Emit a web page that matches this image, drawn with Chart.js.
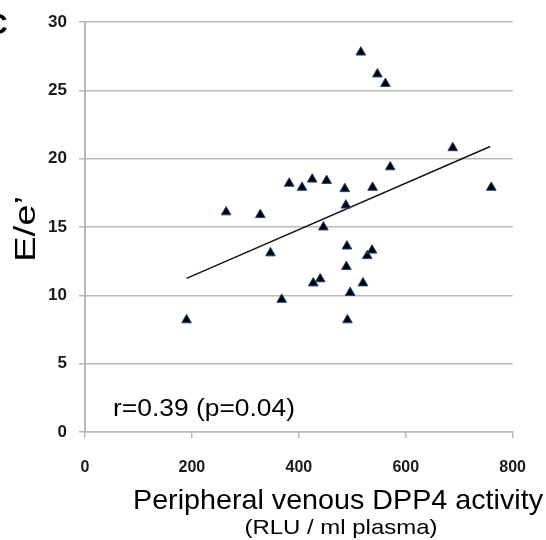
<!DOCTYPE html>
<html>
<head>
<meta charset="utf-8">
<script src="https://cdn.jsdelivr.net/npm/chart.js@4.4.1/dist/chart.umd.min.js"></script>
<style>
  html, body { margin: 0; padding: 0; background: #fff; }
  #wrap { position: relative; width: 546px; height: 540px; }
</style>
</head>
<body>
<div id="wrap"><canvas id="c" width="546" height="540"></canvas></div>
<script>
// DPP4 activity (RLU / ml plasma)
const dpp4 = [190, 264, 328, 347, 368, 382, 406, 425, 427, 440, 446, 452, 486, 488, 489, 490, 491, 496, 516, 520, 528, 537, 538, 547, 562, 571, 688, 760];
// E/e'
const eRatio = [8.2, 16.1, 15.9, 13.1, 9.7, 18.2, 17.9, 18.5, 10.9, 11.2, 15.0, 18.4, 17.8, 16.6, 12.1, 13.6, 8.2, 10.2, 27.8, 10.9, 12.9, 13.3, 17.9, 26.2, 25.5, 19.4, 20.8, 17.9];
// regression line end points
const fitX = [190, 758];
const fitY = [11.25, 20.9];
const xTicks = [0, 200, 400, 600, 800];
const yTicks = [0, 5, 10, 15, 20, 25, 30];
const xTitle = 'Peripheral venous DPP4 activity';
const xSubTitle = '(RLU / ml plasma)';
const yTitle = 'E/e\u2019';
const statText = 'r=0.39 (p=0.04)';
const panelLetter = 'C';

const FONT = '"Liberation Sans", Arial, sans-serif';
const GRID = '#b9b9b9';

function drawStretched(ctx, text, cx, baseline, font, targetW) {
  ctx.save();
  ctx.font = font;
  const w = ctx.measureText(text).width;
  const s = targetW ? targetW / w : 1;
  ctx.translate(cx, baseline);
  ctx.scale(s, 1);
  ctx.textAlign = 'center';
  ctx.textBaseline = 'alphabetic';
  ctx.fillText(text, 0, 0);
  ctx.restore();
}

const textPlugin = {
  id: 'texts',
  afterDraw(chart) {
    const ctx = chart.ctx;
    ctx.save();
    ctx.fillStyle = '#000';
    // x titles
    drawStretched(ctx, xTitle, 338, 509, '28px ' + FONT, 410);
    drawStretched(ctx, xSubTitle, 341, 534, '21px ' + FONT, 193);
    // statistic text
    const sw = 182;
    drawStretched(ctx, statText, 113 + sw / 2, 416, '23px ' + FONT, sw);
    // y title rotated
    ctx.save();
    ctx.translate(35, 229);
    ctx.rotate(-Math.PI / 2);
    ctx.font = '29px ' + FONT;
    const tw = ctx.measureText(yTitle).width;
    ctx.scale(66 / tw, 1);
    ctx.textAlign = 'center';
    ctx.fillText(yTitle, 0, 0);
    ctx.restore();
    // cropped panel letter
    ctx.font = 'bold 30px ' + FONT;
    ctx.textAlign = 'left';
    ctx.fillText(panelLetter, -14, 34);
    ctx.restore();
  }
};

const points = dpp4.map((x, i) => ({ x: x, y: eRatio[i] }));
const fit = fitX.map((x, i) => ({ x: x, y: fitY[i] }));

new Chart(document.getElementById('c'), {
  type: 'scatter',
  data: {
    datasets: [
      {
        data: points,
        pointStyle: 'triangle',
        radius: 5.6,
        backgroundColor: '#000',
        borderColor: '#25477f',
        borderWidth: 1
      },
      {
        data: fit,
        showLine: true,
        borderColor: '#111',
        borderWidth: 1.4,
        pointRadius: 0,
        fill: false
      }
    ]
  },
  options: {
    responsive: false,
    animation: false,
    devicePixelRatio: 1,
    layout: { padding: { left: 0, top: 17, right: 30, bottom: 0 } },
    plugins: { legend: { display: false }, tooltip: { enabled: false } },
    scales: {
      x: {
        type: 'linear',
        min: 0, max: 800,
        afterFit(s) { s.height = 108; },
        afterBuildTicks(s) { s.ticks = xTicks.map(v => ({ value: v })); },
        grid: { drawOnChartArea: false, drawTicks: true, tickLength: 6, color: GRID, lineWidth: 1.5 },
        border: { display: true, color: GRID, width: 1.5 },
        ticks: { padding: 20, color: '#1a1a1a', font: { family: FONT, size: 16, weight: 'bold' }, maxRotation: 0 }
      },
      y: {
        type: 'linear',
        min: 0, max: 30,
        afterFit(s) { s.width = 85; },
        afterBuildTicks(s) { s.ticks = yTicks.map(v => ({ value: v })); },
        grid: { drawOnChartArea: true, drawTicks: true, tickLength: 6, color: GRID, lineWidth: 1.5 },
        border: { display: true, color: GRID, width: 2 },
        ticks: { padding: 12, color: '#1a1a1a', font: { family: FONT, size: 17, weight: 'bold' } }
      }
    }
  },
  plugins: [textPlugin]
});
</script>
</body>
</html>
